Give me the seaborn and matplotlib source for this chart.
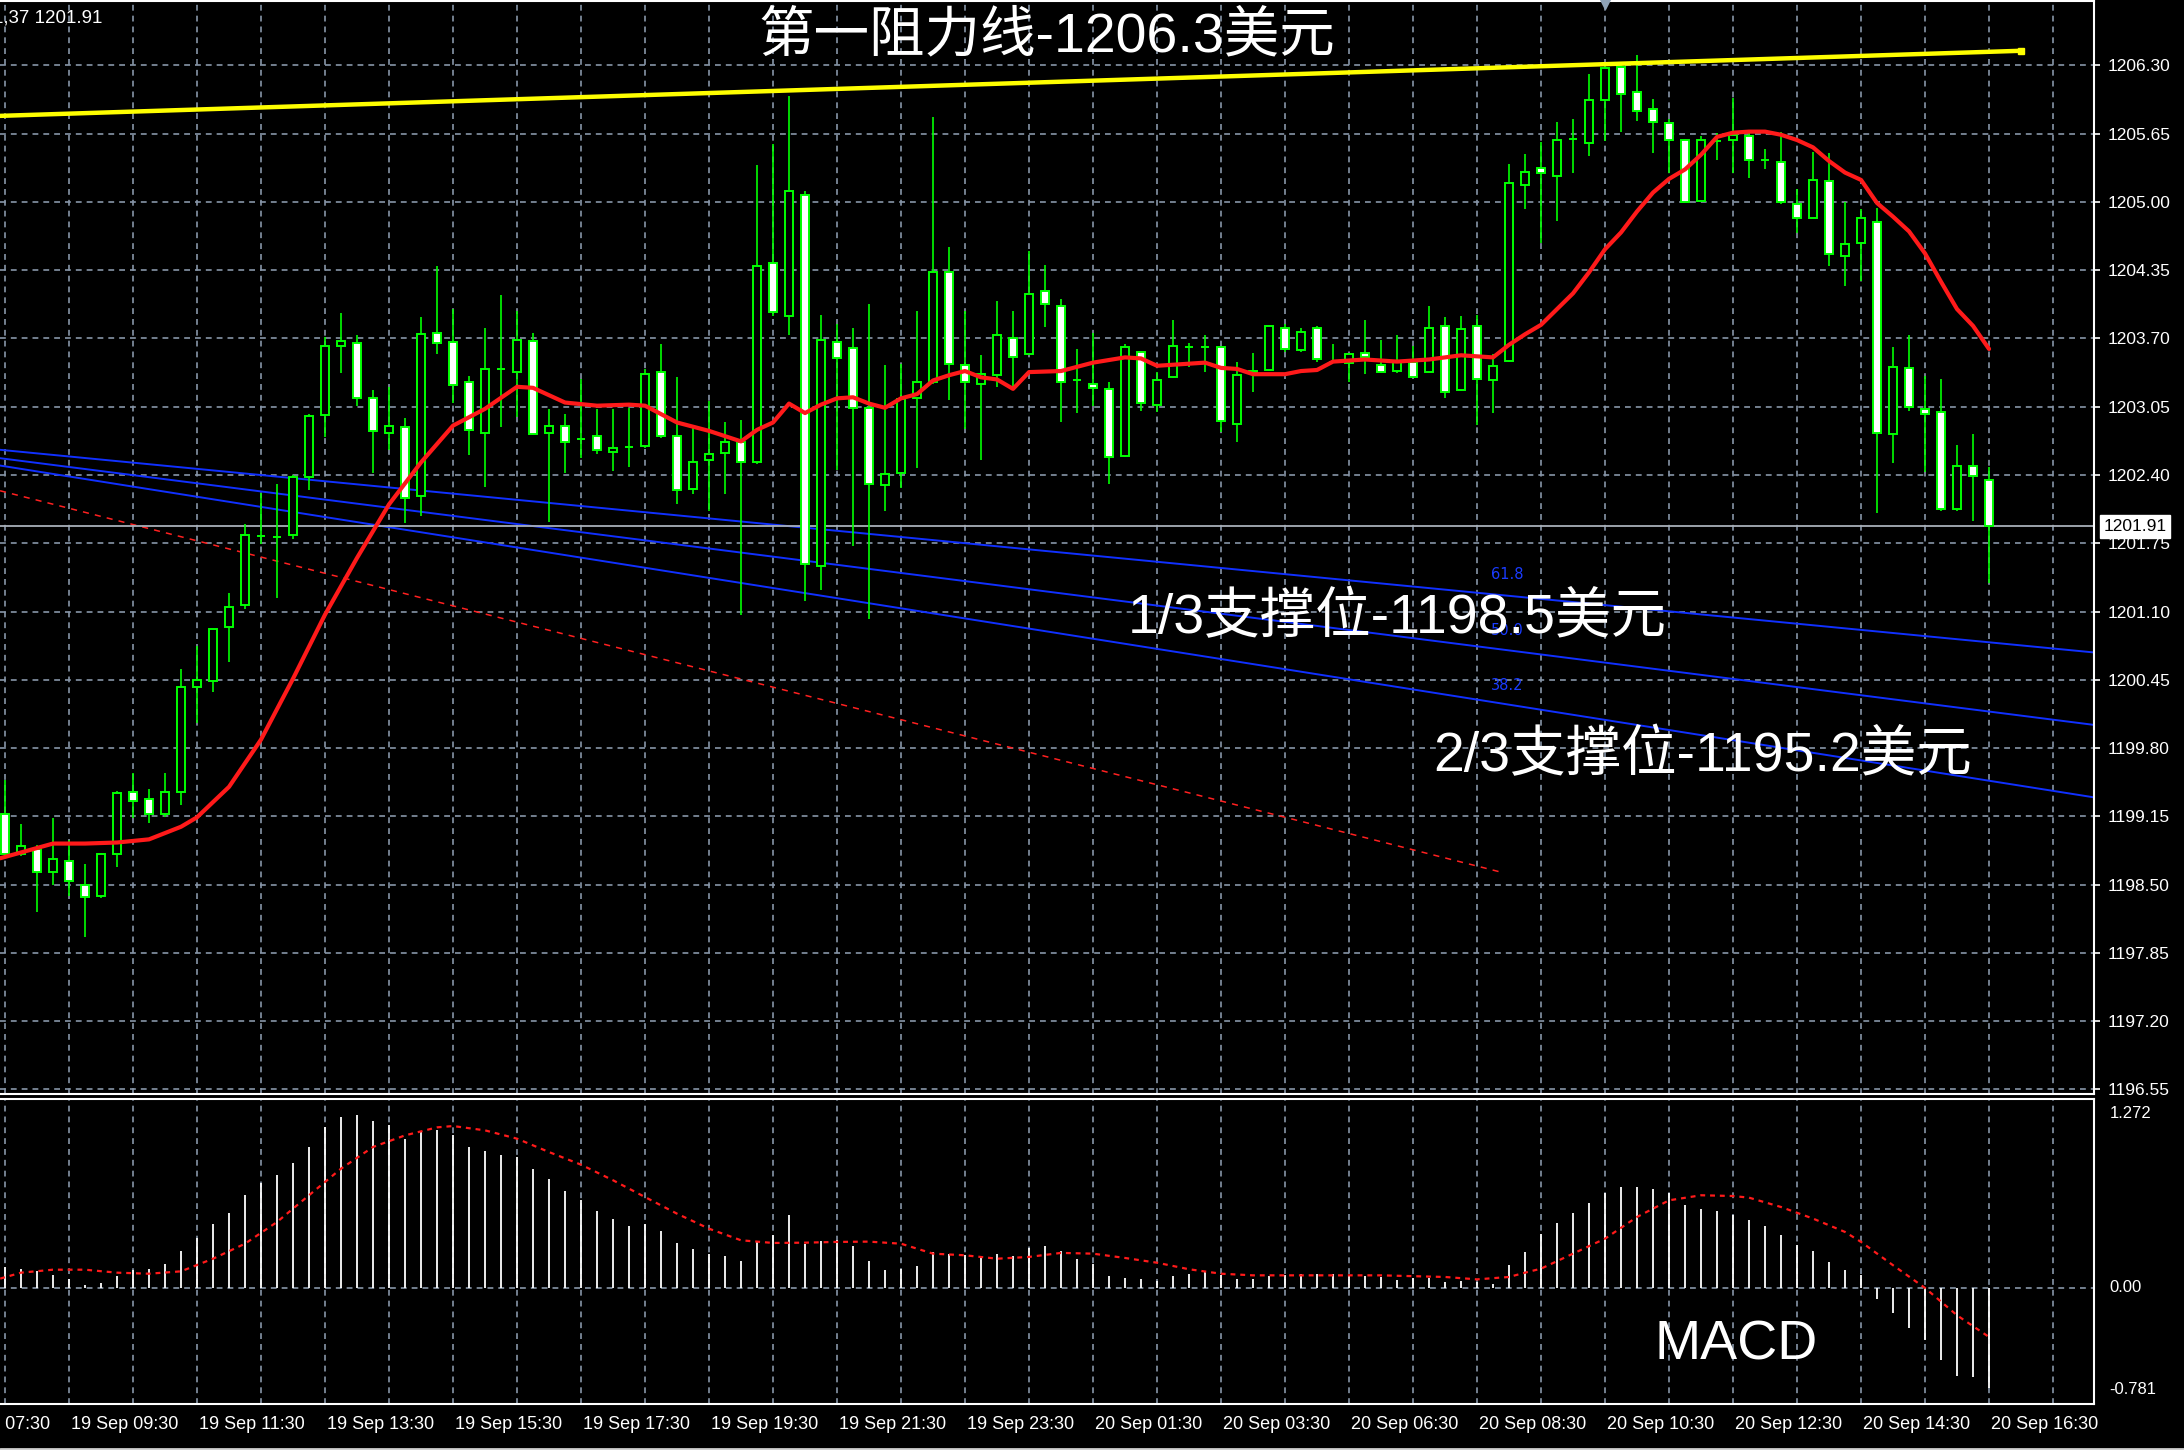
import matplotlib
matplotlib.use("Agg")
import numpy as np
import pandas as pd
import seaborn as sns
from matplotlib import pyplot as plt
from matplotlib import transforms

sns.set_style("dark", {"axes.facecolor": "black", "figure.facecolor": "black"})
plt.rcParams["font.family"] = ["Liberation Sans", "DejaVu Sans"]

# 15 minute candles, 19 Sep 05:30 .. 20 Sep 16:30 (index 0..124)
opens = [1199.17, 1198.79, 1198.84, 1198.62, 1198.72, 1198.50, 1198.39, 1198.79, 1199.38, 1199.31,
         1199.17, 1199.38, 1200.38, 1200.44, 1200.95, 1201.16, 1201.82, 1201.81, 1201.83, 1202.38,
         1202.97, 1203.63, 1203.66, 1203.13, 1202.80, 1202.86, 1202.20, 1203.75, 1203.67, 1203.29,
         1202.80, 1203.41, 1203.38, 1203.68, 1202.80, 1202.87, 1202.74, 1202.77, 1202.62, 1202.67,
         1202.68, 1203.38, 1202.77, 1202.27, 1202.54, 1202.61, 1202.71, 1202.52, 1204.42, 1203.91,
         1205.07, 1201.53, 1203.67, 1203.61, 1203.04, 1202.30, 1202.42, 1203.13, 1203.29, 1204.33,
         1203.45, 1203.27, 1203.35, 1203.70, 1203.55, 1204.15, 1204.01, 1203.30, 1203.27, 1203.22,
         1202.58, 1203.57, 1203.07, 1203.33, 1203.62, 1203.62, 1203.62, 1202.89, 1203.38, 1203.40,
         1203.80, 1203.59, 1203.80, 1203.48, 1203.47, 1203.56, 1203.45, 1203.39, 1203.48, 1203.38,
         1203.82, 1203.21, 1203.82, 1203.30, 1203.49, 1205.16, 1205.32, 1205.25, 1205.60, 1205.56,
         1205.97, 1206.29, 1206.05, 1205.89, 1205.75, 1205.59, 1205.01, 1205.58, 1205.59, 1205.63,
         1205.40, 1205.38, 1204.98, 1204.85, 1205.20, 1204.49, 1204.61, 1204.81, 1202.79, 1203.42,
         1203.03, 1203.00, 1202.08, 1202.49, 1202.35]
highs = [1199.50, 1199.08, 1198.88, 1199.13, 1198.92, 1198.70, 1198.80, 1199.39, 1199.56, 1199.41,
         1199.56, 1200.55, 1200.77, 1200.93, 1201.28, 1201.93, 1202.23, 1202.31, 1202.40, 1202.98,
         1203.71, 1203.94, 1203.73, 1203.21, 1203.24, 1202.94, 1203.90, 1204.39, 1203.98, 1203.34,
         1203.80, 1204.11, 1203.96, 1203.75, 1203.03, 1202.98, 1203.31, 1203.03, 1203.03, 1203.04,
         1203.41, 1203.65, 1203.33, 1202.86, 1203.10, 1202.90, 1202.92, 1205.35, 1205.55, 1206.01,
         1205.10, 1203.92, 1203.84, 1203.80, 1204.03, 1203.45, 1203.46, 1203.96, 1205.81, 1204.57,
         1203.96, 1203.54, 1204.06, 1203.96, 1204.53, 1204.40, 1204.08, 1203.60, 1203.75, 1203.29,
         1203.65, 1203.58, 1203.38, 1203.88, 1203.66, 1203.73, 1203.63, 1203.48, 1203.56, 1203.82,
         1203.84, 1203.80, 1203.82, 1203.65, 1203.56, 1203.88, 1203.69, 1203.73, 1203.63, 1204.01,
         1203.90, 1203.91, 1203.92, 1203.55, 1205.36, 1205.46, 1205.57, 1205.76, 1205.79, 1206.22,
         1206.31, 1206.32, 1206.40, 1205.98, 1205.79, 1205.60, 1205.63, 1205.66, 1205.99, 1205.69,
         1205.50, 1205.67, 1205.12, 1205.48, 1205.47, 1205.00, 1204.93, 1204.94, 1203.62, 1203.73,
         1203.34, 1203.31, 1202.69, 1202.79, 1202.48]
lows = [1198.77, 1198.77, 1198.24, 1198.50, 1198.39, 1198.00, 1198.37, 1198.67, 1199.13, 1199.09,
        1199.14, 1199.26, 1200.04, 1200.33, 1200.62, 1201.12, 1201.74, 1201.23, 1201.79, 1202.26,
        1202.76, 1203.37, 1203.06, 1202.42, 1202.64, 1201.94, 1202.01, 1203.55, 1203.09, 1202.59,
        1202.29, 1202.86, 1202.95, 1202.78, 1201.95, 1202.42, 1202.56, 1202.60, 1202.44, 1202.48,
        1202.66, 1202.75, 1202.12, 1202.22, 1202.06, 1202.22, 1201.07, 1202.50, 1203.91, 1203.73,
        1201.20, 1201.30, 1202.45, 1201.72, 1201.03, 1202.06, 1202.28, 1202.47, 1203.27, 1203.11,
        1202.84, 1202.54, 1203.24, 1203.24, 1203.54, 1203.81, 1202.90, 1202.99, 1203.06, 1202.31,
        1202.57, 1203.01, 1203.00, 1203.32, 1203.43, 1203.38, 1202.81, 1202.71, 1203.19, 1203.39,
        1203.57, 1203.57, 1203.48, 1203.47, 1203.29, 1203.36, 1203.37, 1203.37, 1203.32, 1203.37,
        1203.13, 1203.20, 1202.88, 1202.99, 1203.48, 1204.93, 1204.61, 1204.82, 1205.28, 1205.44,
        1205.58, 1205.67, 1205.77, 1205.47, 1205.28, 1205.00, 1205.01, 1205.40, 1205.28, 1205.23,
        1205.31, 1204.98, 1204.70, 1204.85, 1204.39, 1204.20, 1204.25, 1202.04, 1202.51, 1203.01,
        1202.43, 1202.06, 1202.06, 1201.96, 1201.37]
closes = [1198.79, 1198.87, 1198.62, 1198.74, 1198.53, 1198.38, 1198.79, 1199.37, 1199.30, 1199.17,
          1199.38, 1200.38, 1200.45, 1200.93, 1201.14, 1201.83, 1201.82, 1201.81, 1202.38, 1202.96,
          1203.63, 1203.68, 1203.13, 1202.82, 1202.87, 1202.18, 1203.74, 1203.66, 1203.26, 1202.83,
          1203.41, 1203.41, 1203.69, 1202.79, 1202.87, 1202.71, 1202.74, 1202.64, 1202.66, 1202.67,
          1203.36, 1202.77, 1202.26, 1202.52, 1202.60, 1202.71, 1202.52, 1204.39, 1203.95, 1205.10,
          1201.55, 1203.69, 1203.51, 1203.04, 1202.31, 1202.41, 1203.12, 1203.29, 1204.33, 1203.46,
          1203.29, 1203.36, 1203.73, 1203.52, 1204.12, 1204.03, 1203.29, 1203.30, 1203.23, 1202.57,
          1203.62, 1203.09, 1203.30, 1203.63, 1203.62, 1203.62, 1202.91, 1203.35, 1203.39, 1203.82,
          1203.60, 1203.76, 1203.50, 1203.48, 1203.55, 1203.52, 1203.38, 1203.48, 1203.33, 1203.80,
          1203.19, 1203.79, 1203.31, 1203.44, 1205.18, 1205.29, 1205.28, 1205.59, 1205.60, 1205.97,
          1206.28, 1206.03, 1205.87, 1205.76, 1205.59, 1205.00, 1205.59, 1205.58, 1205.64, 1205.40,
          1205.40, 1205.00, 1204.85, 1205.21, 1204.50, 1204.60, 1204.85, 1202.80, 1203.43, 1203.05,
          1202.98, 1202.08, 1202.49, 1202.39, 1201.91]

# moving average (red)
ma_idx = [-0.3, 3, 5, 7, 9, 11, 12, 14, 16, 18, 20, 22, 24, 26, 28, 30, 32, 33, 35, 37, 39, 40, 42, 44,
          46, 47, 48, 49, 50, 51, 52, 53, 54, 55, 56, 57, 58, 59, 60, 61, 62, 63, 64, 66, 68, 70, 71,
          72, 74, 75, 76, 77, 78, 80, 81, 82, 83, 85, 87, 89, 91, 93, 94, 95, 96, 97, 98, 99, 100,
          101, 102, 103, 104, 105, 106, 107, 108, 109, 110, 111, 112, 113, 114, 115, 116, 117, 118,
          119, 120, 121, 122, 123, 124]
ma_val = [1198.75, 1198.89, 1198.89, 1198.90, 1198.93, 1199.05, 1199.14, 1199.43, 1199.88, 1200.46,
          1201.07, 1201.61, 1202.12, 1202.52, 1202.87, 1203.03, 1203.24, 1203.23, 1203.09, 1203.06,
          1203.07, 1203.06, 1202.90, 1202.82, 1202.72, 1202.83, 1202.90, 1203.08, 1202.99, 1203.07,
          1203.13, 1203.14, 1203.08, 1203.04, 1203.13, 1203.17, 1203.30, 1203.35, 1203.39, 1203.33,
          1203.31, 1203.22, 1203.38, 1203.39, 1203.47, 1203.52, 1203.51, 1203.44, 1203.46, 1203.47,
          1203.42, 1203.41, 1203.36, 1203.36, 1203.39, 1203.40, 1203.48, 1203.50, 1203.48, 1203.50,
          1203.54, 1203.52, 1203.64, 1203.74, 1203.83, 1203.98, 1204.13, 1204.33, 1204.55, 1204.71,
          1204.91, 1205.09, 1205.22, 1205.31, 1205.45, 1205.62, 1205.66, 1205.67, 1205.67, 1205.64,
          1205.59, 1205.52, 1205.39, 1205.28, 1205.21, 1204.99, 1204.86, 1204.72, 1204.51, 1204.24,
          1203.98, 1203.82, 1203.60]

# drawn lines: resistance (yellow), fan (blue), old trend (red dashed)
res_x = [-0.31, 126.0]
res_y = [1205.82, 1206.44]
fan_x = [-0.31, 130.56]
fan_618 = [1202.64, 1200.71]
fan_500 = [1202.56, 1200.02]
fan_382 = [1202.49, 1199.33]
trend_x = [-0.31, 93.7]
trend_y = [1202.25, 1198.61]
last_price = 1201.91

# MACD histogram and signal
macd_hist = [0.141, 0.128, 0.112, 0.090, 0.063, 0.022, 0.036, 0.079, 0.119, 0.130,
             0.159, 0.251, 0.336, 0.428, 0.507, 0.628, 0.709, 0.763, 0.843, 0.949,
             1.083, 1.151, 1.166, 1.126, 1.099, 1.005, 1.054, 1.061, 1.032, 0.949,
             0.924, 0.897, 0.882, 0.803, 0.736, 0.655, 0.594, 0.520, 0.467, 0.415,
             0.433, 0.386, 0.305, 0.265, 0.227, 0.213, 0.184, 0.310, 0.359, 0.494,
             0.298, 0.314, 0.321, 0.280, 0.184, 0.119, 0.130, 0.146, 0.242, 0.231,
             0.220, 0.202, 0.227, 0.215, 0.271, 0.280, 0.247, 0.197, 0.164, 0.079,
             0.067, 0.063, 0.050, 0.079, 0.096, 0.112, 0.090, 0.058, 0.063, 0.079,
             0.090, 0.092, 0.092, 0.094, 0.085, 0.079, 0.074, 0.056, 0.067, 0.067,
             0.040, 0.045, 0.040, 0.029, 0.157, 0.242, 0.361, 0.440, 0.507, 0.574,
             0.642, 0.680, 0.680, 0.668, 0.639, 0.556, 0.534, 0.520, 0.489, 0.455,
             0.417, 0.359, 0.292, 0.249, 0.175, 0.119, 0.085, -0.072, -0.166, -0.269,
             -0.352, -0.487, -0.592, -0.601, -0.673]
signal_idx = [-0.3, 1, 3, 5, 7, 9, 11, 13, 15, 17, 19, 21, 23, 25, 27, 28, 30, 32, 34, 36, 38, 40,
              42, 44, 46, 48, 50, 52, 54, 56, 58, 60, 62, 64, 66, 68, 70, 72, 74, 76, 78, 82, 86,
              90, 92, 94, 95, 96, 98, 100, 102, 104, 106, 108, 109, 111, 113, 115, 116, 118, 120,
              122, 124]
signal_val = [0.063, 0.103, 0.123, 0.123, 0.103, 0.096, 0.112, 0.197, 0.298, 0.444, 0.624, 0.803,
              0.949, 1.027, 1.081, 1.090, 1.061, 1.005, 0.915, 0.830, 0.725, 0.612, 0.500, 0.399,
              0.321, 0.303, 0.305, 0.310, 0.312, 0.298, 0.231, 0.220, 0.197, 0.209, 0.236, 0.231,
              0.202, 0.170, 0.126, 0.096, 0.085, 0.085, 0.085, 0.074, 0.058, 0.074, 0.103, 0.130,
              0.231, 0.332, 0.478, 0.590, 0.624, 0.619, 0.608, 0.545, 0.467, 0.377, 0.310, 0.153,
              0.000, -0.184, -0.330]

price_ticks = [1196.55, 1197.20, 1197.85, 1198.50, 1199.15, 1199.80, 1200.45, 1201.10,
               1201.75, 1202.40, 1203.05, 1203.70, 1204.35, 1205.00, 1205.65, 1206.30]
macd_tick_labels = ["1.272", "0.00", "-0.781"]
time_pos = [-4, 4, 12, 20, 28, 36, 44, 52, 60, 68, 76, 84, 92, 100, 108, 116, 124]
time_labels = ["19 Sep 07:30", "19 Sep 09:30", "19 Sep 11:30", "19 Sep 13:30", "19 Sep 15:30",
               "19 Sep 17:30", "19 Sep 19:30", "19 Sep 21:30", "19 Sep 23:30", "20 Sep 01:30",
               "20 Sep 03:30", "20 Sep 06:30", "20 Sep 08:30", "20 Sep 10:30", "20 Sep 12:30",
               "20 Sep 14:30", "20 Sep 16:30"]

# colours
lime = "#00ff00"
grid_c = "#8796a8"
grid_ls = (0, (3.5, 3))
cjk = ["Liberation Sans", "Noto Sans CJK SC"]
narrow = ["Liberation Sans Narrow", "Liberation Sans"]

df = pd.DataFrame(dict(o=opens, h=highs, l=lows, c=closes))
df["i"] = np.arange(len(df))
df["bear"] = df["c"] < df["o"]

W, H = 2184, 1450
fig = plt.figure(figsize=(W / 100, H / 100), dpi=100)
fig.patch.set_facecolor("black")

ax_w = 2094 / W
ax1 = fig.add_axes([0, (H - 1094) / H, ax_w, 1093 / H])
ax2 = fig.add_axes([0, (H - 1404) / H, ax_w, 305 / H])
xlim = (-0.3125, 130.56)

for ax in (ax1, ax2):
    ax.set_facecolor("black")
    ax.set_xlim(xlim)
    for v in range(0, 131, 4):
        ax.axvline(v, color=grid_c, lw=1.2, ls=grid_ls, zorder=1)
    for s in ("top", "right", "bottom"):
        ax.spines[s].set_visible(True)
        ax.spines[s].set_color("white")
        ax.spines[s].set_linewidth(1.5)
    ax.spines["left"].set_visible(False)
    ax.grid(False)

# ---- price panel
ax1.set_ylim(1196.505, 1206.914)
for p in price_ticks:
    ax1.axhline(p, color=grid_c, lw=1.2, ls=grid_ls, zorder=1)

ax1.plot(trend_x, trend_y, color="#ff2020", lw=1.1, ls=(0, (4, 4)), zorder=2)
for fy in (fan_618, fan_500, fan_382):
    ax1.plot(fan_x, fy, color="#1030ff", lw=1.4, zorder=2)
ax1.axhline(last_price, color="#a8b0b8", lw=1.3, zorder=2)
ax1.plot(res_x, res_y, color="#ffff00", lw=3.2, zorder=6)
ax1.plot(res_x[-1:], res_y[-1:], marker="s", ms=5, color="#ffff00", zorder=6)

ax1.vlines(df["i"], df["l"], df["h"], color=lime, lw=1.2, zorder=3)
ax1.bar(df["i"], (df["c"] - df["o"]).abs(), bottom=np.minimum(df["o"], df["c"]), width=0.45,
        color=np.where(df["bear"], "white", "black"), edgecolor=lime, linewidth=1.4, zorder=4)

sns.lineplot(x=ma_idx, y=ma_val, ax=ax1, color="#ff1a1a", lw=3, sort=False, zorder=5)

for lab, fy in (("61.8", 1201.45), ("50.0", 1200.92), ("38.2", 1200.40)):
    ax1.text(93.9, fy, lab, color="#1a3cff", fontsize=10.5, family="DejaVu Sans",
             ha="center", va="center", zorder=3)

ax1.yaxis.tick_right()
ax1.set_yticks(price_ticks)
ax1.set_yticklabels([f"{p:.2f}" for p in price_ticks])
ax1.tick_params(axis="y", colors="white", labelsize=12.5, length=4.5, width=1.2, pad=5,
                direction="out")
ax1.tick_params(axis="x", bottom=False, labelbottom=False)
ax1.set_xlabel("")
ax1.set_ylabel("")

tr1 = transforms.blended_transform_factory(ax1.transAxes, ax1.transData)
ax1.text(1.0045, last_price, "1201.91", transform=tr1, color="black", fontsize=12.5,
         ha="left", va="center", zorder=10,
         bbox=dict(boxstyle="square,pad=0.22", fc="white", ec="white"))
ax1.plot([100], [1.0], transform=transforms.blended_transform_factory(ax1.transData, ax1.transAxes),
         marker="v", ms=12, color="#8fa3b8", clip_on=False, zorder=10)

# ---- MACD panel
ax2.set_ylim(-0.781, 1.272)
ax2.axhline(0, color=grid_c, lw=1.2, ls=grid_ls, zorder=1)
ax2.vlines(df["i"], 0, macd_hist, color="white", lw=1.3, zorder=3)
sns.lineplot(x=signal_idx, y=signal_val, ax=ax2, color="#ff1a1a", lw=1.6, sort=False,
             linestyle=(0, (2.2, 2.2)), zorder=4)
ax2.set_yticks([])
ax2.set_xlabel("")
ax2.set_ylabel("")
ax2.set_xticks([p for p in time_pos if p >= 0])
ax2.tick_params(axis="x", colors="white", length=5, width=1.2, direction="out", labelbottom=False)

tr2 = transforms.blended_transform_factory(ax2.transData, ax2.transAxes)
for p, lab in zip(time_pos, time_labels):
    ax2.text(p + 0.1, -0.066, lab, transform=tr2, color="white", fontsize=13, family=narrow,
             ha="left", va="center", clip_on=False)

# MACD scale labels sit just inside the panel's top and bottom edges
for lab, ypos in zip(macd_tick_labels, (1 - 15 / 305, 116 / 305, 14 / 305)):
    ax2.text(1.0075, ypos, lab, transform=ax2.transAxes, color="white", fontsize=12,
             family=narrow, ha="left", va="center")

# ---- annotations
fig.text(1047 / W, 1 - 37 / H, "第一阻力线-1206.3美元", color="white", fontsize=40, family=cjk,
         ha="center", va="center")
fig.text(1397 / W, 1 - 619 / H, "1/3支撑位-1198.5美元", color="white", fontsize=40, family=cjk,
         ha="center", va="center")
fig.text(1703 / W, 1 - 757 / H, "2/3支撑位-1195.2美元", color="white", fontsize=40, family=cjk,
         ha="center", va="center")
fig.text(1736 / W, 1 - 1345 / H, "MACD", color="white", fontsize=40, family=cjk,
         ha="center", va="center")
fig.text(-0.003, 1 - 18 / H, "1,37 1201.91", color="white", fontsize=13.5, ha="left", va="center")

fig.add_artist(plt.Line2D([0, 1], [1.5 / H, 1.5 / H], color="#d0d0d0", lw=2,
                          transform=fig.transFigure))

fig.savefig("out.png", dpi=100, facecolor="black")
